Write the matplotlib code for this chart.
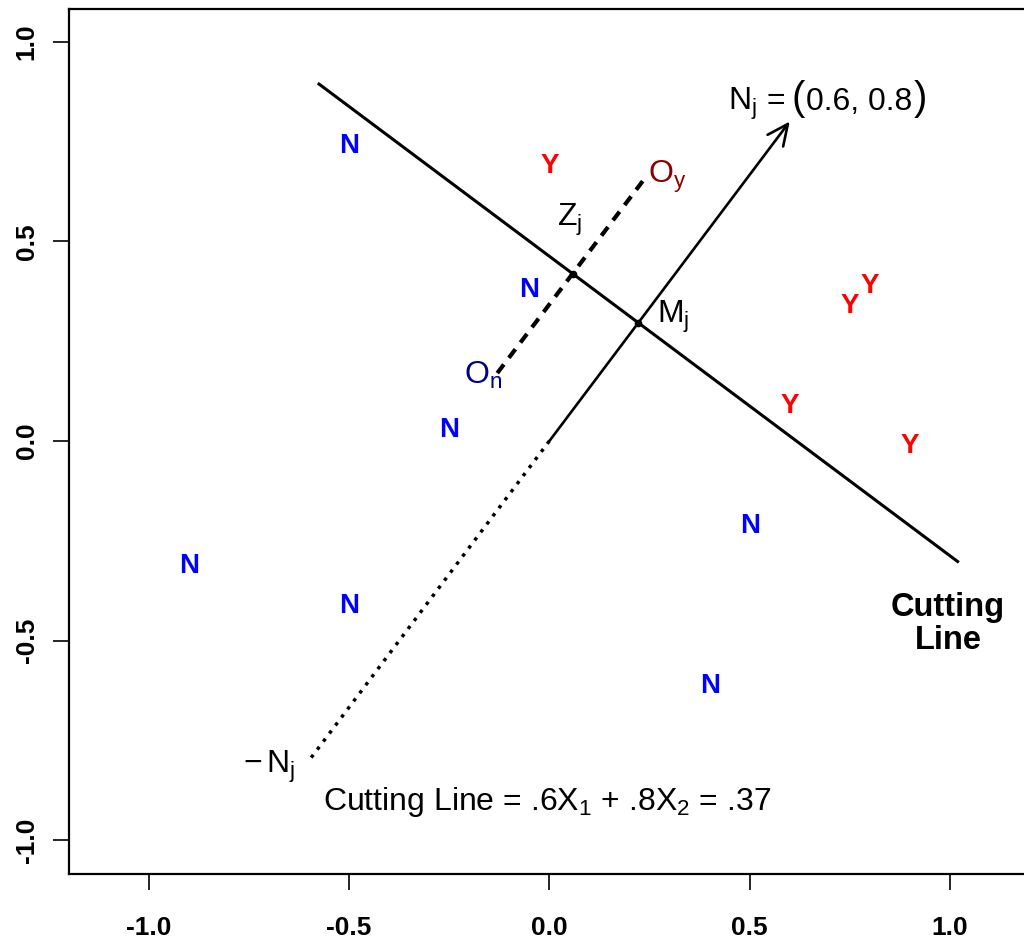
import numpy as np
import matplotlib
matplotlib.use("Agg")
import matplotlib.pyplot as plt

plt.rcParams['font.family'] = ['Liberation Sans', 'DejaVu Sans']
plt.rcParams['mathtext.fontset'] = 'custom'
plt.rcParams['mathtext.rm'] = 'Liberation Sans'
plt.rcParams['mathtext.it'] = 'Liberation Sans:italic'
plt.rcParams['mathtext.bf'] = 'Liberation Sans:bold'

# normal vector and cutting point
normal = np.array([0.6, 0.8])
cut_value = 0.37

# legislators: N (no votes) and Y (yes votes)
n_x = [-0.5, -0.05, -0.25, -0.9, -0.5, 0.5, 0.4]
n_y = [0.75, 0.39, 0.04, -0.3, -0.4, -0.2, -0.6]
y_x = [0.0, 0.75, 0.8, 0.6, 0.9]
y_y = [0.7, 0.35, 0.4, 0.1, 0.0]

# outcome points
o_n = np.array([-0.13, 0.17])
o_y = np.array([0.24, 0.66])

ticks = [-1.0, -0.5, 0.0, 0.5, 1.0]
tick_labels = ['-1.0', '-0.5', '0.0', '0.5', '1.0']

fig = plt.figure(figsize=(10.24, 9.44), dpi=100)
ax = fig.add_axes([0.067, 0.0742, 0.939, 0.916])
ax.set_xlim(-1.2, 1.2)
ax.set_ylim(-1.084, 1.081)

# midpoint and cutting line through it
m_j = cut_value * normal
perp = np.array([-normal[1], normal[0]])
p1 = m_j + perp
p2 = m_j - perp
ax.plot([p1[0], p2[0]], [p1[1], p2[1]], color='black', lw=2.2, solid_capstyle='butt')

# normal vector and its negative
ax.annotate('', xy=tuple(normal), xytext=(0, 0),
            arrowprops=dict(arrowstyle='->,head_length=0.75,head_width=0.35',
                            lw=1.9, color='black', shrinkA=0, shrinkB=0,
                            mutation_scale=20))
ax.plot([0, -normal[0]], [0, -normal[1]], color='black', lw=2.5,
        linestyle=(0, (1, 1.9)))

# line joining the outcomes, and where it crosses the cutting line
d = o_y - o_n
t = (cut_value - normal @ o_n) / (normal @ d)
z_j = o_n + t * d
ax.plot([o_n[0], o_y[0]], [o_n[1], o_y[1]], color='black', lw=3.0,
        linestyle=(0, (2.6, 2.0)))
ax.plot([z_j[0], m_j[0]], [z_j[1], m_j[1]], 'o', color='black', ms=4.5, ls='none')

# vote letters, nudged down so the glyph sits centred on its point
for x, y in zip(n_x, n_y):
    ax.annotate('N', (x, y), xytext=(0, -3.5), textcoords='offset points',
                color='#0000ff', fontsize=20, fontweight='bold',
                ha='center', va='center')
for x, y in zip(y_x, y_y):
    ax.annotate('Y', (x, y), xytext=(0, -3.5), textcoords='offset points',
                color='#ff0000', fontsize=20, fontweight='bold',
                ha='center', va='center')

fs = 23
lab = dict(fontsize=fs, ha='center', va='center')

# N_j = (0.6, 0.8) with tall brackets, built piece by piece on one baseline
base_y = 0.8285
t_a = ax.text(0.447, base_y, r'$\mathrm{N_j}$ =', fontsize=fs, ha='left', va='baseline')
t_b = ax.annotate('(', xy=(1, base_y), xycoords=(t_a, 'data'), xytext=(4, 0),
                  textcoords='offset points', fontsize=29, ha='left', va='baseline')
t_c = ax.annotate('0.6, 0.8', xy=(1, base_y), xycoords=(t_b, 'data'), xytext=(1, 0),
                  textcoords='offset points', fontsize=fs, ha='left', va='baseline')
ax.annotate(')', xy=(1, base_y), xycoords=(t_c, 'data'), xytext=(1, 0),
            textcoords='offset points', fontsize=29, ha='left', va='baseline')

ax.text(0.05, 0.553, r'$\mathrm{Z_j}$', **lab)
ax.text(0.31, 0.31, r'$\mathrm{M_j}$', **lab)
ax.text(-0.165, 0.163, r'$\mathrm{O_n}$', color='#00008b', **lab)
ax.text(0.293, 0.66, r'$\mathrm{O_y}$', color='#8b0000', **lab)
ax.text(-0.70, -0.815, r'$-\,\mathrm{N_j}$', **lab)
ax.text(-0.005, -0.905, r'Cutting Line = .6X$_1$ + .8X$_2$ = .37', **lab)
ax.text(0.995, -0.458, 'Cutting\nLine', fontsize=23.5, fontweight='bold',
        ha='center', va='center', linespacing=1.1)

ax.set_xticks(ticks)
ax.set_xticklabels(tick_labels, fontsize=19, fontweight='bold')
ax.set_yticks(ticks)
ax.set_yticklabels(tick_labels, fontsize=19, fontweight='bold',
                   rotation=90, va='center')
ax.tick_params(axis='x', length=11.5, width=1.2, pad=19)
ax.tick_params(axis='y', length=11.5, width=1.2, pad=10)
for s in ax.spines.values():
    s.set_linewidth(1.6)

fig.savefig('out.png', dpi=100)
